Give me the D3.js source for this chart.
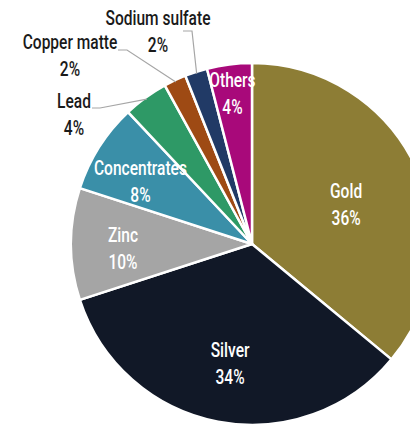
<!DOCTYPE html>
<html>
<head>
<meta charset="utf-8">
<script src="https://cdn.jsdelivr.net/npm/d3@7"></script>
<style>
  html, body { margin: 0; padding: 0; background: #fff; }
  svg { display: block; }
  text { font-family: "Roboto", "Liberation Sans", sans-serif; font-weight: 500; }
</style>
</head>
<body>
<svg id="chart" width="410" height="424"></svg>
<script>
const categories = ["Gold", "Silver", "Zinc", "Concentrates", "Lead", "Copper matte", "Sodium sulfate", "Others"];
const values = [36, 34, 10, 8, 4, 2, 2, 4];
const colors = ["#8D7D35", "#111827", "#A5A5A5", "#3A8FA8", "#2E9966", "#9E4A14", "#213A66", "#A8097A"];

const W = 410, H = 424;
const cx = 252, cy = 244, R = 181;
const fs = 21, lineGap = 27, squeeze = 0.74;

const data = categories.map((c, i) => ({ name: c, value: values[i], color: colors[i] }));

const svg = d3.select("#chart");
const g = svg.append("g").attr("transform", `translate(${cx},${cy})`);

const pie = d3.pie().sort(null).value(d => d.value);
const arcs = pie(data);
const arc = d3.arc().innerRadius(0).outerRadius(R);

g.selectAll("path.slice")
  .data(arcs)
  .join("path")
  .attr("class", "slice")
  .attr("d", arc)
  .attr("fill", d => d.data.color)
  .attr("stroke", "#fff")
  .attr("stroke-width", 2.5)
  .attr("stroke-linejoin", "round");

function label(parent, x, y, name, pct, fill) {
  const t = parent.append("g").attr("transform", `translate(${x},${y}) scale(${squeeze},1)`);
  t.append("text").attr("text-anchor", "middle").attr("fill", fill).attr("font-size", fs)
    .attr("x", 0).attr("y", 0).text(name);
  t.append("text").attr("text-anchor", "middle").attr("fill", fill).attr("font-size", fs)
    .attr("x", 0).attr("y", lineGap).text(pct);
}

// inside labels (first-line baseline positioned around centroid)
const insideRadius = { "Gold": 104, "Silver": 117, "Zinc": 129, "Concentrates": 125, "Others": 156 };
const insideShift = { "Concentrates": -6 };
arcs.forEach(a => {
  const r = insideRadius[a.data.name];
  if (r === undefined) return;
  const lab = d3.arc().innerRadius(r).outerRadius(r);
  const [x, y] = lab.centroid(a);
  label(g, x + (insideShift[a.data.name] || 0), y - 2, a.data.name, a.data.value + "%", "#fff");
});

// outside labels with leader lines
const outside = {
  "Lead":          { tx: 74,  ty: 108, line: [[92,108],[100,108]] },
  "Copper matte":  { tx: 70,  ty: 49,  line: [[118,50],[127,50]] },
  "Sodium sulfate":{ tx: 158, ty: 25,  line: [[183,31],[192,31]] }
};
arcs.forEach(a => {
  const o = outside[a.data.name];
  if (!o) return;
  const mid = (a.startAngle + a.endAngle) / 2;
  const ex = cx + Math.sin(mid) * (R - 2);
  const ey = cy - Math.cos(mid) * (R - 2);
  svg.append("polyline")
    .attr("points", [o.line[0], o.line[1], [ex, ey]].map(p => p.join(",")).join(" "))
    .attr("fill", "none")
    .attr("stroke", "#A6A6A6")
    .attr("stroke-width", 1.2);
  label(svg, o.tx, o.ty, a.data.name, a.data.value + "%", "#1a1a1a");
});
</script>
</body>
</html>
